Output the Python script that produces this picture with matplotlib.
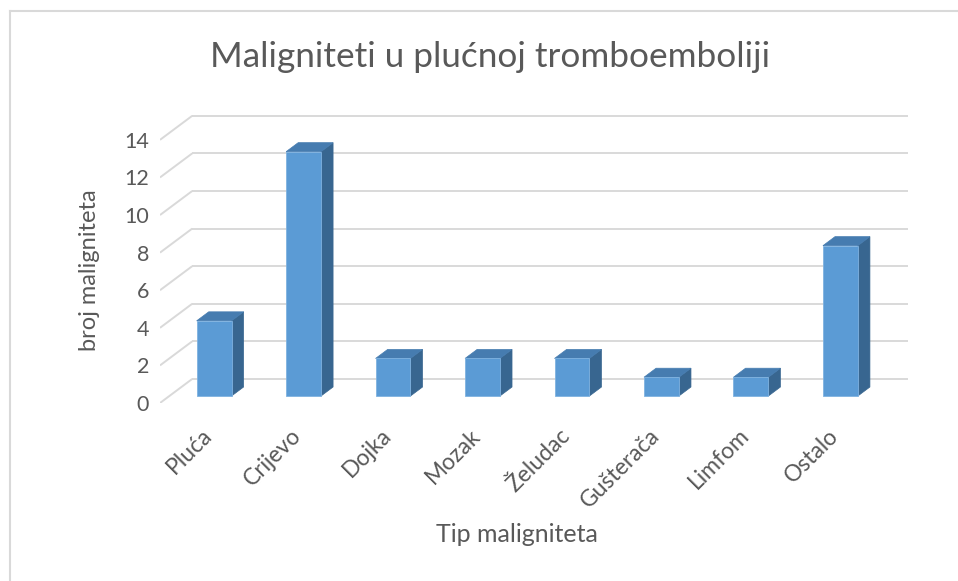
import matplotlib.pyplot as plt
import matplotlib.transforms as mtransforms
from matplotlib.patches import Polygon
from matplotlib.lines import Line2D

categories = ["Pluća", "Crijevo", "Dojka", "Mozak", "Želudac", "Gušterača", "Limfom", "Ostalo"]
values = [4, 13, 2, 2, 2, 1, 1, 8]
y_ticks = [0, 2, 4, 6, 8, 10, 12, 14]

title = "Maligniteti u plućnoj tromboemboliji"
x_label = "Tip maligniteta"
y_label = "broj maligniteta"

plt.rcParams['font.family'] = ['Lato', 'DejaVu Sans']
text_color = "#595959"
grid_color = "#D9D9D9"
front_color = "#5B9BD5"
top_color = "#467CB0"
side_color = "#386690"

# oblique "3D" depth of the plot area, in data units
DX, DY = 0.36, 1.28
bar_start = 0.29   # where bar front sits inside the depth
bar_depth = 0.375  # bar depth as share of the full depth
W = 0.39

fig = plt.figure(figsize=(9.58, 5.81), dpi=100)
ax = fig.add_axes([160 / 958, (581 - 403) / 581, 748 / 958, 0.4982])
ax.set_xlim(-0.5, len(categories) - 0.5 + DX)
ax.set_ylim(0, 15.4)

# back wall + side wall gridlines
x0, x1 = -0.5, len(categories) - 0.5
for v in y_ticks:
    ax.plot([x0, x0 + DX], [v, v + DY], color=grid_color, lw=1.4, zorder=1,
            solid_capstyle='butt')
    ax.plot([x0 + DX, x1 + DX], [v + DY, v + DY], color=grid_color, lw=1.4,
            zorder=1, solid_capstyle='butt')

# bars: front face via ax.bar, side and top as polygons
xs = list(range(len(categories)))
b = bar_start * DY
fx = [x + bar_start * DX for x in xs]
ax.bar(fx, values, width=W, bottom=b, color=front_color, zorder=3,
       edgecolor="#7FB2E0", linewidth=0.6)
ddx, ddy = bar_depth * DX, bar_depth * DY
for x, v in zip(fx, values):
    r = x + W / 2
    l = x - W / 2
    side = [(r, b), (r, b + v), (r + ddx, b + v + ddy), (r + ddx, b + ddy)]
    top = [(l, b + v), (r, b + v), (r + ddx, b + v + ddy), (l + ddx, b + v + ddy)]
    ax.add_patch(Polygon(side, closed=True, facecolor=side_color,
                         edgecolor=side_color, lw=0.5, zorder=2))
    ax.add_patch(Polygon(top, closed=True, facecolor=top_color,
                         edgecolor=top_color, lw=0.5, zorder=2))

for s in ax.spines.values():
    s.set_visible(False)

ax.set_yticks(y_ticks)
ax.set_yticklabels([str(t) for t in y_ticks])
ax.tick_params(axis='y', length=0, pad=8, labelsize=15.5, labelcolor=text_color)
ax.set_xticks(xs)
ax.set_xticklabels(categories, rotation=45, ha='right', va='center',
                   rotation_mode='anchor')
ax.tick_params(axis='x', length=0, pad=21, labelsize=16.5, labelcolor=text_color)
shift = mtransforms.ScaledTranslation(4 / 100, 0, fig.dpi_scale_trans)
for lbl in ax.get_xticklabels():
    lbl.set_transform(lbl.get_transform() + shift)

fig.text(490 / 958, 1 - 57 / 581, title, ha='center', va='center',
         fontsize=25.3, color=text_color)
fig.text(517 / 958, 1 - 535 / 581, x_label, ha='center', va='center',
         fontsize=18, color=text_color)
fig.text(90 / 958, 1 - 270 / 581, y_label, ha='center', va='center',
         rotation=90, fontsize=17, color=text_color)

# chart border (left and top edges only visible)
fig.add_artist(Line2D([10 / 958, 10 / 958], [0, 1 - 11 / 581],
                      color=grid_color, lw=1.5, transform=fig.transFigure))
fig.add_artist(Line2D([10 / 958, 1], [1 - 11 / 581, 1 - 11 / 581],
                      color=grid_color, lw=1.5, transform=fig.transFigure))

fig.savefig("out.png", dpi=100, facecolor="white")
